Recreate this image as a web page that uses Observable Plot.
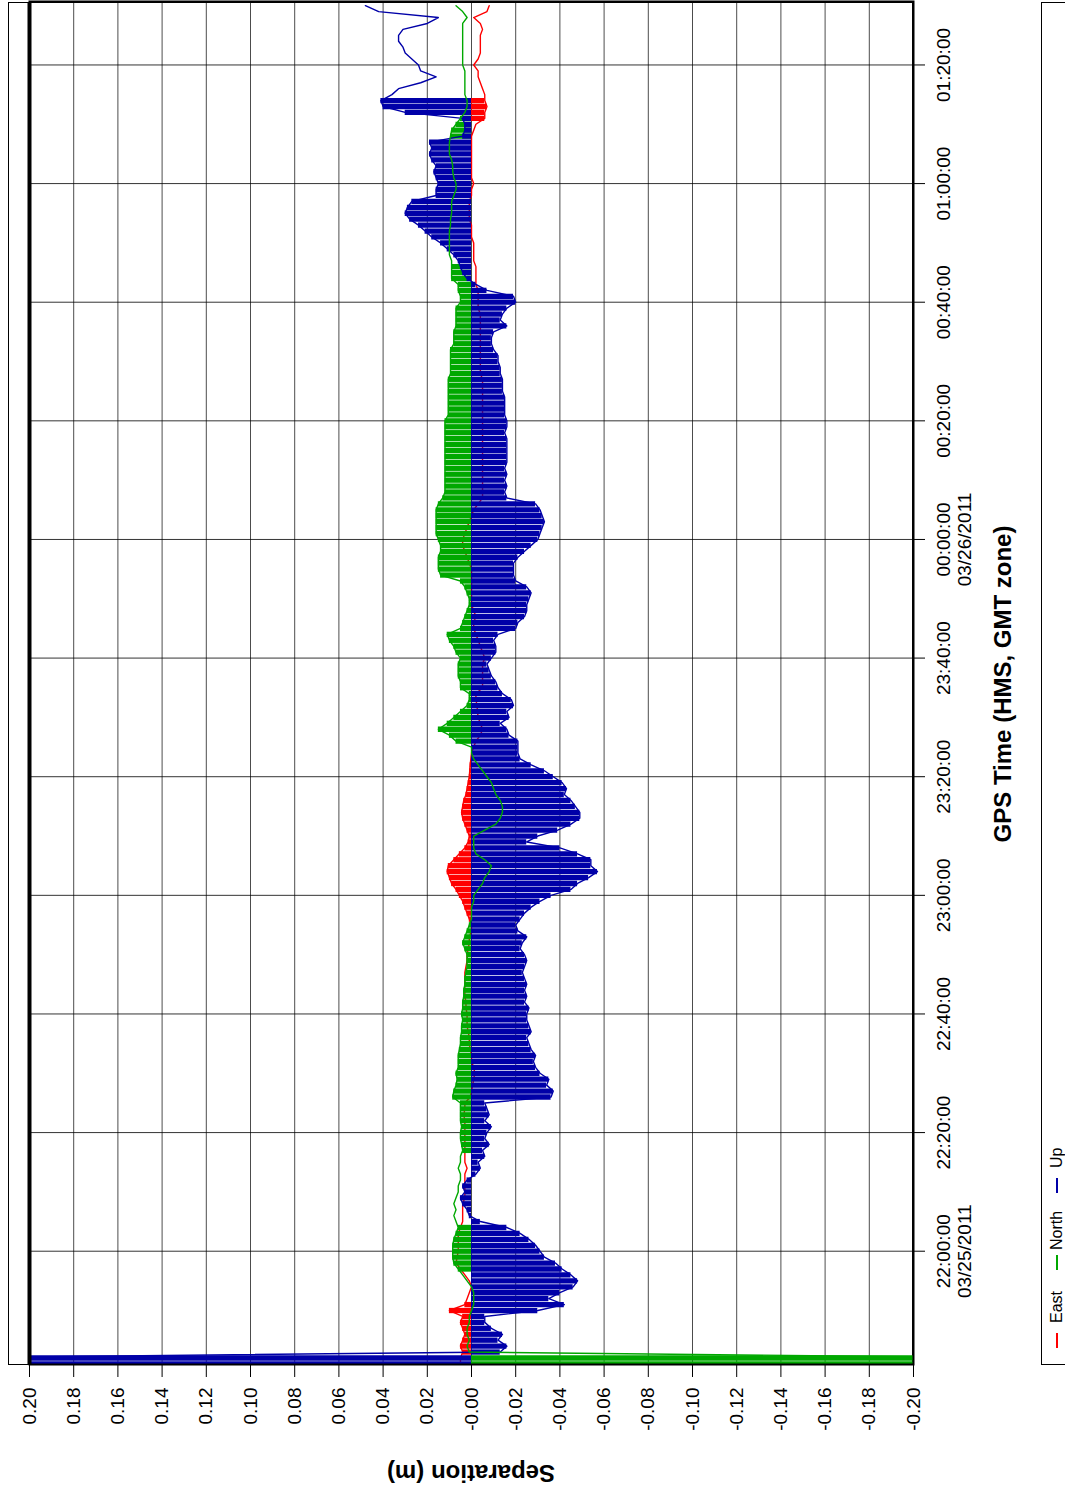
<!DOCTYPE html>
<html>
<head>
<meta charset="utf-8">
<script src="https://cdn.jsdelivr.net/npm/d3@7"></script>
<script src="https://cdn.jsdelivr.net/npm/@observablehq/plot@0.6"></script>
<style>
  html, body { margin: 0; padding: 0; overflow: hidden; background: #fff; width: 1065px; height: 1495px; }
  #rot { position: absolute; left: 0; top: 0; width: 1495px; height: 1065px;
         transform-origin: 0 0; transform: translateY(1495px) rotate(-90deg);
         font-family: "Liberation Sans", Arial, sans-serif; color: #000; }
  #outer { position: absolute; left: 130px; top: 8px; width: 1363px; height: 905px; border: 1px solid #000; box-sizing: border-box; }
  #chart { position: absolute; left: 0; top: 0; }
  #legend { position: absolute; left: 130px; top: 1041px; width: 1363px; height: 60px; border: 1.5px solid #000; box-sizing: border-box; }
  .li { position: absolute; top: 6px; font-size: 16px; line-height: 18px; white-space: nowrap; }
  .dash { position: absolute; top: 14px; height: 1.5px; width: 15px; }
  .title { position: absolute; font-weight: bold; font-size: 24px; white-space: nowrap; }
</style>
</head>
<body>
<div id="rot">
  <div id="outer"></div>
  <div id="chart"></div>
  <div id="legend"></div>
  <div class="title" id="ytitle">Separation (m)</div>
  <div class="title" id="xtitle">GPS Time (HMS, GMT zone)</div>
</div>
<script>
// ---------------- data (one sample per minute starting 21:41:00 UTC, 03/25/2011) ----------------
const sampleStart = "2011-03-25T21:41:00Z";
const seriesNames = ["East", "North", "Up"];
const seriesColors = ["#ff0000", "#00a800", "#0000a8"];

const east = [
  0.005,
  0.005, 0.004, 0.005, 0.004, 0.003, 0.004, 0.005, 0.004, 0.010, 0.003, 0.002, 0.001, 0.000, 0.001, 0.003, 0.005, 0.007, 0.0065,
  0.006, 0.006, 0.006, 0.006, 0.005, 0.004, 0.004, 0.004, 0.004, 0.003, 0.003, 0.003, 0.003, 0.003, 0.002, 0.003, 0.003, 0.003,
  0.003, 0.003, 0.003, 0.003, 0.003, 0.0035, 0.003, 0.003, 0.0005, 0.000, -0.0005, -0.001, -0.0015, -0.001, 0.000, 0.000, 0.0005, 0.001, 0.001, 0.0015,
  0.002, 0.002, 0.002, 0.0025, 0.0025, 0.003, 0.003, 0.003, 0.003, 0.003, 0.0025, 0.002, 0.002, 0.0015, 0.001, 0.001, 0.000, 0.000,
  0.001, 0.002, 0.003, 0.004, 0.0055, 0.007, 0.009, 0.010, 0.011, 0.0105, 0.008, 0.0055, 0.003, 0.0015, 0.001, 0.002, 0.003, 0.004, 0.0045, 0.004,
  0.0035, 0.0025, 0.002, 0.0015, 0.001, 0.0008, 0.0006, 0.0003, 0.000, -0.001, -0.002, -0.004, -0.005, -0.004, -0.003, -0.0027, -0.0025, -0.002, -0.002,
  -0.005, -0.005, -0.005, -0.005, -0.005, -0.006, -0.005, -0.004, -0.003, -0.002, -0.001, -0.001, -0.002, -0.001, 0.000, 0.000, 0.000, 0.000, 0.000, 0.000,
  0.000, 0.001, 0.002, 0.003, 0.004, 0.004, 0.003, 0.002, 0.001, 0.000, -0.001, -0.003, -0.005, -0.005, -0.005, -0.005, -0.005, -0.005, -0.005,
  -0.005, -0.005, -0.005, -0.005, -0.005, -0.005, -0.005, -0.005, -0.005, -0.005, -0.005, -0.005, -0.005, -0.005,
  -0.004, -0.004, -0.004, -0.004, -0.004, -0.004, -0.004, -0.004, -0.004, -0.004, -0.004,
  -0.003, -0.003, -0.003, -0.003, -0.002, -0.002, -0.002, -0.002, -0.001, -0.001, -0.001, -0.001, 0.000, 0.000,
  0.000, 0.001, 0.001, 0.001, 0.001, 0.000, 0.000, -0.001, 0.000, 0.000,
  0.000, 0.000, 0.000, 0.000, 0.000, 0.000, -0.001, -0.002, -0.006, -0.006,
  -0.007, -0.006, -0.006, -0.005, -0.004, -0.003, -0.003, -0.001, -0.003, -0.004,
  -0.004, -0.004, -0.004, -0.005, -0.004, -0.001, -0.007, -0.008
];

const north = [
  -0.25,
  -0.25, 0.001, 0.002, 0.001, 0.002, 0.002, 0.001, 0.001, 0.000, -0.001, -0.001, -0.001, 0.000, 0.002, 0.004, 0.006, 0.008, 0.0085,
  0.0085, 0.0085, 0.008, 0.007, 0.006, 0.007, 0.008, 0.007, 0.008, 0.007, 0.006, 0.006, 0.005, 0.005, 0.006, 0.005, 0.005, 0.004,
  0.0045, 0.005, 0.005, 0.0045, 0.005, 0.005, 0.005, 0.005, 0.0085, 0.008, 0.007, 0.0065, 0.007, 0.006, 0.006, 0.006, 0.0055, 0.005,
  0.005, 0.0045, 0.0045, 0.004, 0.0045, 0.004, 0.004, 0.0035, 0.0035, 0.003, 0.003, 0.0025, 0.002, 0.002, 0.002, 0.003, 0.004, 0.003, 0.002, 0.001,
  0.000, 0.000, 0.000, -0.001, -0.001, -0.003, -0.005, -0.006, -0.008, -0.009, -0.006, -0.002, -0.001, -0.001, -0.001, -0.006, -0.011, -0.013, -0.014, -0.014,
  -0.013, -0.011, -0.010, -0.009, -0.007, -0.005, -0.003, -0.001, 0.000, 0.000, 0.007, 0.010, 0.015, 0.011, 0.008, 0.005, 0.002, 0.001, 0.001,
  0.005, 0.005, 0.006, 0.006, 0.006, 0.005, 0.007, 0.008, 0.010, 0.011, 0.005, 0.004, 0.003, 0.002, 0.001, 0.001, 0.002, 0.003, 0.005, 0.014,
  0.015, 0.015, 0.015, 0.014, 0.014, 0.015, 0.016, 0.016, 0.016, 0.016, 0.016, 0.015, 0.013, 0.012, 0.012, 0.012, 0.012, 0.012, 0.012,
  0.012, 0.012, 0.012, 0.012, 0.012, 0.012, 0.012, 0.0105, 0.0105, 0.0105, 0.0105, 0.0105, 0.0105, 0.0105, 0.0095, 0.0095, 0.0095, 0.0095, 0.0095,
  0.008, 0.008, 0.008, 0.007, 0.007, 0.007, 0.007, 0.005, 0.005, 0.006, 0.006, 0.009, 0.009, 0.009, 0.009, 0.010, 0.010, 0.010, 0.010, 0.010,
  0.0095, 0.0095, 0.009, 0.009, 0.009, 0.008, 0.007, 0.007, 0.008, 0.0085,
  0.0085, 0.009, 0.010, 0.010, 0.010, 0.0095, 0.009, 0.007, 0.005, 0.003,
  0.002, 0.002, 0.003, 0.003, 0.003, 0.003, 0.003, 0.004, 0.004, 0.004,
  0.004, 0.004, 0.004, 0.004, 0.004, 0.002, 0.004, 0.007
];

const up = [
  0.25,
  0.25, -0.013, -0.016, -0.012, -0.014, -0.009, -0.006, -0.006, -0.030, -0.042, -0.035, -0.040, -0.046, -0.048, -0.045, -0.041, -0.038, -0.033,
  -0.031, -0.029, -0.026, -0.022, -0.016, -0.004, 0.001, 0.002, 0.004, 0.005, 0.003, 0.004, 0.002, -0.002, -0.004, -0.003, -0.006, -0.005,
  -0.008, -0.006, -0.007, -0.009, -0.006, -0.008, -0.007, -0.006, -0.036, -0.037, -0.034, -0.035, -0.031, -0.029, -0.028, -0.029, -0.027, -0.026,
  -0.025, -0.027, -0.026, -0.025, -0.025, -0.026, -0.024, -0.025, -0.024, -0.025, -0.024, -0.023, -0.024, -0.025, -0.024, -0.022, -0.023, -0.025, -0.021, -0.020,
  -0.022, -0.024, -0.027, -0.031, -0.036, -0.045, -0.048, -0.053, -0.057, -0.054, -0.054, -0.048, -0.040, -0.025, -0.030, -0.039, -0.045, -0.049, -0.049, -0.047,
  -0.045, -0.042, -0.043, -0.041, -0.037, -0.033, -0.027, -0.022, -0.021, -0.021, -0.021, -0.017, -0.016, -0.013, -0.017, -0.016, -0.019, -0.018, -0.014,
  -0.012, -0.011, -0.009, -0.008, -0.007, -0.009, -0.011, -0.011, -0.010, -0.012, -0.020, -0.021, -0.024, -0.025, -0.025, -0.026, -0.027, -0.025, -0.020, -0.019,
  -0.019, -0.019, -0.021, -0.024, -0.027, -0.030, -0.031, -0.032, -0.033, -0.032, -0.031, -0.029, -0.016, -0.015, -0.016, -0.015, -0.016, -0.015, -0.016,
  -0.016, -0.016, -0.016, -0.016, -0.015, -0.016, -0.016, -0.015, -0.015, -0.015, -0.015, -0.014, -0.014, -0.014, -0.013, -0.013, -0.012, -0.012, -0.010, -0.009,
  -0.009, -0.010, -0.016, -0.013, -0.014, -0.016, -0.020, -0.019, -0.007, -0.002, 0.002, 0.004, 0.005, 0.006, 0.008, 0.011, 0.014, 0.018, 0.021,
  0.024, 0.028, 0.030, 0.029, 0.027, 0.016, 0.016, 0.015, 0.016, 0.017, 0.016, 0.018, 0.019, 0.018, 0.019,
  0.004, 0.003, 0.003, 0.004,
  0.030, 0.040, 0.041, 0.036, 0.033, 0.023, 0.016, 0.023, 0.024, 0.027, 0.030, 0.031, 0.033, 0.033, 0.031, 0.020, 0.015, 0.042, 0.048
];

// periods in which the series is drawn as dense stems down to zero
const eastFill  = [["2011-03-25T21:43:00Z", "2011-03-25T21:51:00Z"], ["2011-03-25T22:56:00Z", "2011-03-25T23:22:00Z"], ["2011-03-26T01:11:00Z", "2011-03-26T01:14:00Z"]];
const northFill = [["2011-03-25T21:41:00Z", "2011-03-25T21:42:00Z"], ["2011-03-25T21:57:00Z", "2011-03-25T22:04:00Z"], ["2011-03-25T22:17:00Z", "2011-03-25T22:56:00Z"], ["2011-03-25T23:25:00Z", "2011-03-26T00:46:00Z"], ["2011-03-26T01:08:00Z", "2011-03-26T01:12:00Z"]];
const upFill    = [["2011-03-25T21:41:00Z", "2011-03-26T01:14:00Z"]];

const timeDomain = ["2011-03-25T21:40:54Z", "2011-03-26T01:30:42Z"];
const xTicks = ["2011-03-25T22:00:00Z", "2011-03-25T22:20:00Z", "2011-03-25T22:40:00Z", "2011-03-25T23:00:00Z", "2011-03-25T23:20:00Z", "2011-03-25T23:40:00Z",
                "2011-03-26T00:00:00Z", "2011-03-26T00:20:00Z", "2011-03-26T00:40:00Z", "2011-03-26T01:00:00Z", "2011-03-26T01:20:00Z"];
const xTickLabels = ["22:00:00\n03/25/2011", "22:20:00", "22:40:00", "23:00:00", "23:20:00", "23:40:00",
                     "00:00:00\n03/26/2011", "00:20:00", "00:40:00", "01:00:00", "01:20:00"];
const yTicks = [0.20, 0.18, 0.16, 0.14, 0.12, 0.10, 0.08, 0.06, 0.04, 0.02, 0.00, -0.02, -0.04, -0.06, -0.08, -0.10, -0.12, -0.14, -0.16, -0.18, -0.20];
const yTickLabels = ["0.20", "0.18", "0.16", "0.14", "0.12", "0.10", "0.08", "0.06", "0.04", "0.02", "-0.00", "-0.02", "-0.04", "-0.06", "-0.08", "-0.10", "-0.12", "-0.14", "-0.16", "-0.18", "-0.20"];

// ---------------- build ----------------
const t0 = new Date(sampleStart).getTime();
const rows = up.map((u, i) => ({t: new Date(t0 + i * 60000), East: east[i], North: north[i], Up: up[i]}));
const xTickDates = xTicks.map(s => new Date(s));
const inFill = (ranges) => (d) => ranges.some(([a, b]) => d.t >= new Date(a) && d.t <= new Date(b));
const fills = {East: eastFill, North: northFill, Up: upFill};
const colorOf = (name) => seriesColors[seriesNames.indexOf(name)];
const stems = (name) => Plot.ruleX(rows.filter(inFill(fills[name])), {x: "t", y1: 0, y2: name, stroke: colorOf(name), strokeWidth: 5.3, clip: true});
const line = (name) => Plot.lineY(rows, {x: "t", y: name, stroke: colorOf(name), strokeWidth: 1.4, clip: true});

const chart = Plot.plot({
  width: 1495,
  height: 1065,
  marginLeft: 130,
  marginRight: 2,
  marginTop: 29,
  marginBottom: 152,
  style: {fontFamily: "'Liberation Sans', Arial, sans-serif", fontSize: "19px", background: "transparent", color: "#000", overflow: "visible"},
  x: {type: "utc", domain: timeDomain.map(s => new Date(s)), label: null},
  y: {domain: [-0.20, 0.20], label: null},
  marks: [
    Plot.gridY({ticks: yTicks, stroke: "#000", strokeOpacity: 0.7, strokeWidth: 1}),
    Plot.gridX({ticks: xTickDates, stroke: "#000", strokeOpacity: 0.8, strokeWidth: 1}),
    stems("East"), line("East"),
    stems("North"),
    stems("Up"), line("Up"),
    line("North"),
    Plot.frame({stroke: "#000", strokeWidth: 2}),
    Plot.ruleY([0.20], {stroke: "#000", strokeWidth: 4}),
    Plot.axisY({ticks: yTicks, tickFormat: d => yTickLabels[yTicks.indexOf(d)], tickSize: 12, tickPadding: 11, fontSize: 19, label: null}),
    Plot.axisX({ticks: xTickDates, tickFormat: d => xTickLabels[xTickDates.findIndex(t => +t === +d)], tickSize: 12, tickPadding: 10, fontSize: 19, lineHeight: 1.1, label: null})
  ]
});
document.getElementById("chart").appendChild(chart);

// legend
const legend = document.getElementById("legend");
const legendPos = [[16, 41], [94, 114], [171, 196]]; // dash left, text left (px within legend box)
seriesNames.forEach((name, i) => {
  const dash = document.createElement("div");
  dash.className = "dash";
  dash.style.left = legendPos[i][0] + "px";
  dash.style.background = seriesColors[i];
  legend.appendChild(dash);
  const lab = document.createElement("div");
  lab.className = "li";
  lab.style.left = legendPos[i][1] + "px";
  lab.textContent = name;
  legend.appendChild(lab);
});

// axis titles
const yt = document.getElementById("ytitle");
yt.style.left = "22px"; yt.style.top = "471px";
yt.style.transform = "translate(-50%, -50%) rotate(-90deg)";
const xt = document.getElementById("xtitle");
xt.style.left = "811px"; xt.style.top = "1003px";
xt.style.transform = "translate(-50%, -50%)";
</script>
</body>
</html>
